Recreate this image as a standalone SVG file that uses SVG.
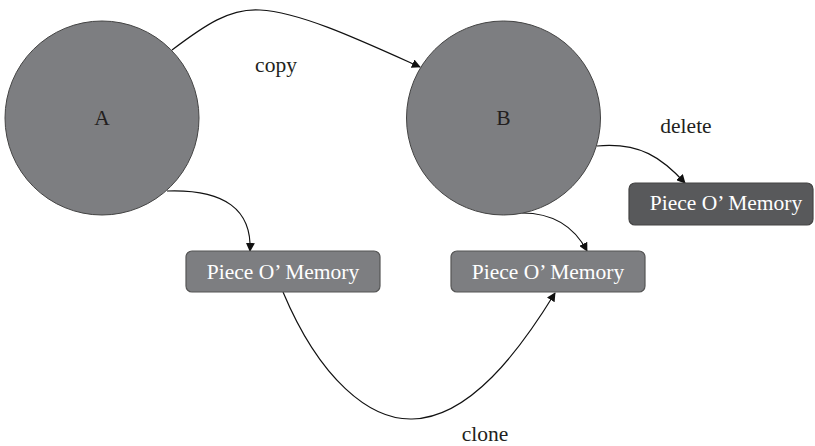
<svg xmlns="http://www.w3.org/2000/svg" width="815" height="446" viewBox="0 0 815 446">
<style>
.circ{fill:#7d7e81;stroke:#444;stroke-width:1}
.box{fill:#7d7e81;stroke:#555;stroke-width:1.2}
.dbox{fill:#58595b;stroke:#444;stroke-width:1.2}
.lbl{font-family:"Liberation Serif","Times New Roman",serif;font-size:21.5px;fill:#231f20;text-anchor:middle}
.wl{font-family:"Liberation Serif","Times New Roman",serif;font-size:21.5px;fill:#ffffff;text-anchor:middle}
.edge{fill:none;stroke:#111;stroke-width:1.2}
</style>
<defs>
<marker id="ah" viewBox="0 0 10 10" refX="9" refY="5" markerWidth="9" markerHeight="9" markerUnits="userSpaceOnUse" orient="auto">
<path d="M0,0 L10,5 L0,10 z" fill="#111"/>
</marker>
</defs>
<rect width="815" height="446" fill="#fff"/>
<g id="connectors">
<path class="edge" marker-end="url(#ah)" d="M172,50 C205,25 230,8 260,10 C300,12 360,40 420,67"/>
<path class="edge" marker-end="url(#ah)" d="M167,191 C225,189 252,210 250,251"/>
<path class="edge" marker-end="url(#ah)" d="M597,146 C640,142 662,158 685,183"/>
<path class="edge" marker-end="url(#ah)" d="M522,213 C555,213 575,228 587,251"/>
<path class="edge" marker-end="url(#ah)" d="M283,292 C320,380 370,420 412,419 C470,418 520,350 555,293"/>
</g>
<g id="nodeA">
<circle class="circ" cx="102" cy="118" r="97"/>
<text class="lbl" x="102" y="125">A</text>
</g>
<g id="nodeB">
<circle class="circ" cx="503.5" cy="118" r="97"/>
<text class="lbl" x="503.5" y="125">B</text>
</g>
<g id="mem1">
<rect class="box" x="186" y="251" width="194" height="41" rx="6"/>
<text class="wl" x="283" y="279">Piece O’ Memory</text>
</g>
<g id="mem2">
<rect class="box" x="451" y="251" width="194" height="41" rx="6"/>
<text class="wl" x="548" y="279">Piece O’ Memory</text>
</g>
<g id="mem3">
<rect class="dbox" x="629" y="183" width="184" height="42" rx="6"/>
<text class="wl" x="726" y="210">Piece O’ Memory</text>
</g>
<g id="labels">
<text class="lbl" x="276" y="72">copy</text>
<text class="lbl" x="686" y="133">delete</text>
<text class="lbl" x="485" y="441">clone</text>
</g>
</svg>
